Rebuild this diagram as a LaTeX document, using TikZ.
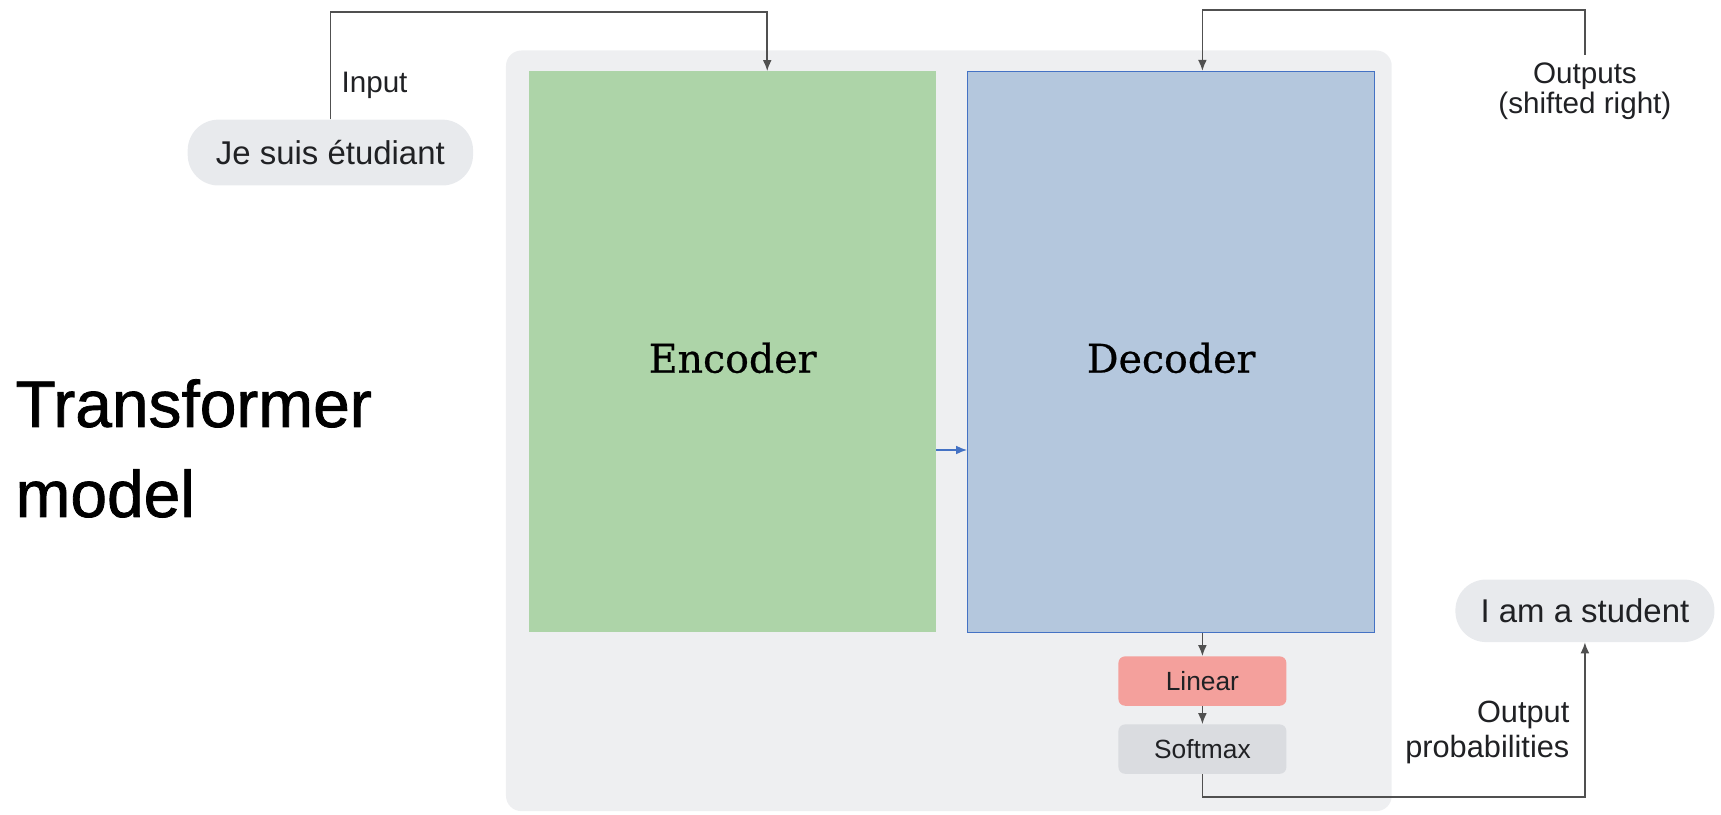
\documentclass[tikz,border=0pt]{standalone}
\usepackage{fontspec}
\setmainfont{Liberation Sans}
\newfontfamily\encfont[FakeBold=0.6]{DejaVu Serif}
\newfontfamily\titlefont[FakeBold=1.2]{Liberation Sans}
\usetikzlibrary{arrows.meta,calc}
\definecolor{panelgray}{HTML}{EEEFF1}
\definecolor{encgreen}{HTML}{ADD4A8}
\definecolor{decblue}{HTML}{B4C7DD}
\definecolor{decborder}{HTML}{4472C4}
\definecolor{pillgray}{HTML}{E8EAED}
\definecolor{linred}{HTML}{F4A09C}
\definecolor{softgray}{HTML}{DADCE0}
\definecolor{linegray}{HTML}{505050}
\definecolor{textdark}{HTML}{202124}
\begin{document}
\begin{tikzpicture}[x=1pt,y=-1pt,
  conn/.style={draw=linegray, line width=1.4pt},
  arr/.style={conn, -{Latex[length=10pt,width=8pt]}},
  bluearr/.style={draw=decborder, line width=1.3pt, -{Latex[length=10pt,width=8pt]}},
  pill/.style={fill=pillgray, rounded corners=28pt, inner sep=0pt, text=textdark, font=\fontsize{30}{36}\selectfont},
  bigbox/.style={minimum width=371pt, minimum height=511pt, inner sep=0pt, text height=38pt, text depth=0pt, font=\encfont\fontsize{36}{40}\selectfont, text=black},
  smallbox/.style={minimum width=153pt, minimum height=45pt, inner sep=0pt, rounded corners=6pt, text=textdark, font=\fontsize{24}{28}\selectfont},
  lbl/.style={text=textdark, inner sep=0pt, font=\fontsize{27}{27}\selectfont},
  title/.style={text=black, inner sep=0pt, font=\titlefont\fontsize{60}{72}\selectfont}
]
\useasboundingbox (0,0) rectangle (1568,742);
% panel
\fill[panelgray, rounded corners=14pt] (461,46) rectangle (1268,739);
% encoder / decoder
\node[bigbox, fill=encgreen] (enc) at (667.5,320.5) {Encoder};
\node[bigbox, fill=decblue, draw=decborder, line width=0.8pt] (dec) at (1067,320.5) {Decoder};
% linear / softmax
\node[smallbox, fill=linred] (lin) at (1095.5,620.5) {Linear};
\node[smallbox, fill=softgray] (soft) at (1095.5,682.5) {Softmax};
% pills
\node[pill, minimum width=260pt, minimum height=60pt] (je) at (301,139) {Je suis étudiant};
\node[pill, minimum width=236pt, minimum height=57pt] (iam) at (1444,556.5) {I am a student};
% labels
\node[lbl, anchor=base west] (inlbl) at (311,84) {Input};
\node[lbl, align=center, anchor=north, inner xsep=3pt, inner ysep=7pt] (outlbl) at (1444,50) {Outputs\\(shifted right)};
\node[lbl, anchor=base east, font=\fontsize{28}{28}\selectfont] (op1) at (1430,658) {Output};
\node[lbl, anchor=base east, font=\fontsize{28}{28}\selectfont] (op2) at (1430,690) {probabilities};
% title
\node[title, anchor=base west] (t1) at (14,389) {Transformer};
\node[title, anchor=base west] (t2) at (14,471) {model};
% connectors
\coordinate (inA) at (699,11);
\coordinate (outA) at (1095.5,9);
\coordinate (bot) at (1095.5,726);
\coordinate (mid) at (0,410);
\draw[arr] (je.north) |- (inA) -- (inA |- enc.north);
\draw[arr] (outlbl.north) |- (outA) -- (outA |- dec.north);
\draw[arr] (lin.north |- dec.south) -- (lin.north);
\draw[arr] (lin.south) -- (soft.north);
\draw[arr] (soft.south) -- (bot) -| (iam.south);
\draw[bluearr] (enc.east |- mid) -- (dec.west |- mid);
\end{tikzpicture}
\end{document}
